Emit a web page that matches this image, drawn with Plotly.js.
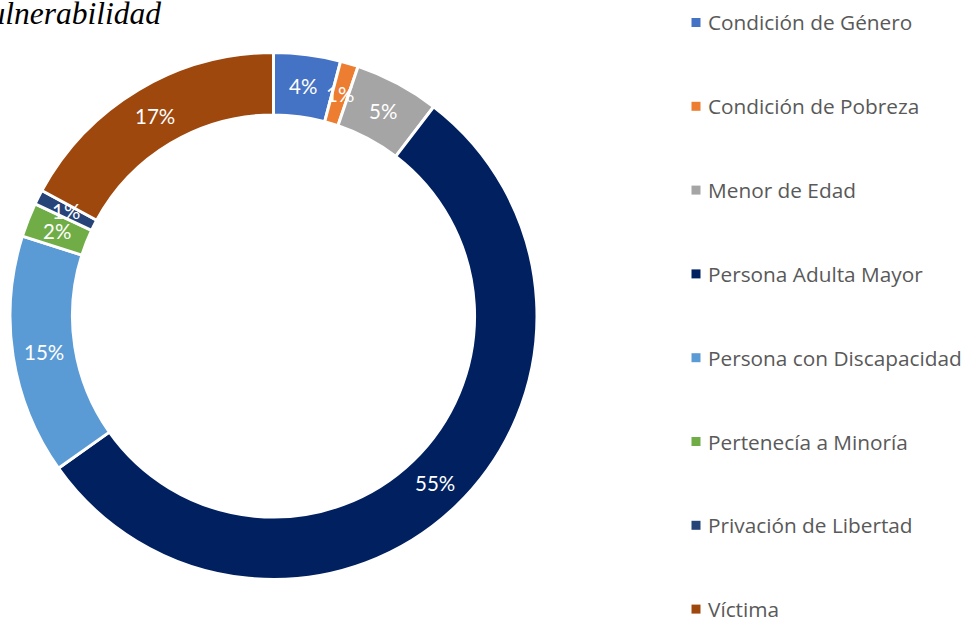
<!DOCTYPE html>
<html>
<head>
<meta charset="utf-8">
<script src="https://cdn.plot.ly/plotly-3.0.1.min.js"></script>
<style>html,body{margin:0;padding:0;background:#fff}#chart{width:962px;height:618px}</style>
</head>
<body>
<div id="chart"></div>
<script>
const categories = ["Condición de Género", "Condición de Pobreza", "Menor de Edad", "Persona Adulta Mayor",
                    "Persona con Discapacidad", "Pertenecía a Minoría", "Privación de Libertad", "Víctima"];
const values = [4.1, 1.1, 5.2, 54.8, 14.7, 2.1, 0.9, 17.1];
const colors = ["#4472C4", "#ED7D31", "#A5A5A5", "#002060", "#5B9BD5", "#70AD47", "#264478", "#9E480E"];
const titleText = "Vulnerabilidad";

const W = 962, H = 618;
const domX = [10 / W, 537 / W];
const domY = [1 - 579.5 / H, 1 - 52.5 / H];
const hole = 0.763;

// slice labels positioned from the data (mid-angle of each slice)
const total = values.reduce((a, b) => a + b, 0);
const R = Math.min(W * (domX[1] - domX[0]), H * (domY[1] - domY[0])) / 2;
const cx = W * (domX[0] + domX[1]) / 2;
const cy = H * (1 - (domY[0] + domY[1]) / 2);
const rLab = R * (1 + hole) / 2;
const annotations = [];
let cum = 0;
values.forEach((v, i) => {
  const a = (cum + v / 2) / total * 2 * Math.PI;
  cum += v;
  const px = cx + rLab * Math.sin(a), py = cy - rLab * Math.cos(a);
  annotations.push({
    xref: "paper", yref: "paper", x: px / W, y: 1 - py / H,
    xanchor: "center", yanchor: "middle", showarrow: false,
    text: Math.round(v / total * 100) + "%",
    font: {family: "Lato, 'Open Sans', sans-serif", size: 20.5, color: "#ffffff"}
  });
});

// legend built from categories/colors
const shapes = [];
const legTop = 22.5, legStep = 83.8;
categories.forEach((c, i) => {
  const y = legTop + i * legStep;
  shapes.push({type: "rect", xref: "paper", yref: "paper",
    x0: 691.5 / W, x1: 700.5 / W, y0: 1 - (y + 4.5) / H, y1: 1 - (y - 4.5) / H,
    fillcolor: colors[i], line: {width: 0}});
  annotations.push({xref: "paper", yref: "paper", x: 706 / W, y: 1 - y / H,
    xanchor: "left", yanchor: "middle", showarrow: false, text: c,
    font: {family: "'Open Sans', sans-serif", size: 20.8, color: "#595959"}});
});

const data = [{
  type: "pie",
  labels: categories,
  values: values,
  hole: hole,
  sort: false,
  direction: "clockwise",
  rotation: 0,
  textinfo: "none",
  marker: {colors: colors, line: {color: "#ffffff", width: 3}},
  domain: {x: domX, y: domY},
  showlegend: false
}];

const layout = {
  width: W, height: H,
  margin: {l: 0, r: 0, t: 0, b: 0},
  paper_bgcolor: "#ffffff",
  showlegend: false,
  title: {
    text: "<i>" + titleText + "</i>",
    xref: "paper", yref: "container",
    x: 161 / W, xanchor: "right",
    y: 1 - 12.5 / H, yanchor: "middle",
    font: {family: "'Liberation Serif', 'Times New Roman', serif", size: 31.5, color: "#000000"}
  },
  annotations: annotations,
  shapes: shapes
};

Plotly.newPlot("chart", data, layout, {displayModeBar: false, staticPlot: true});
</script>
</body>
</html>
